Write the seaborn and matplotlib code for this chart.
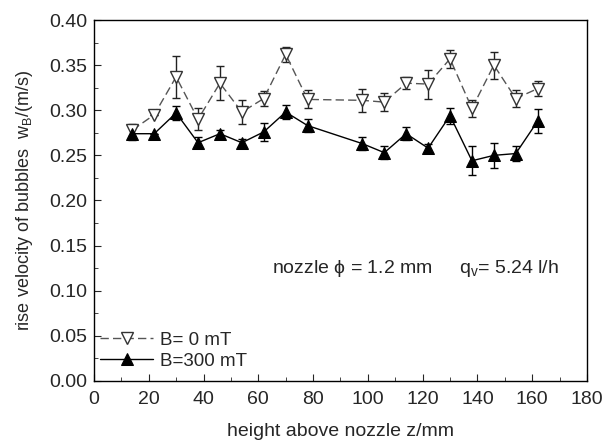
import matplotlib.pyplot as plt
import seaborn as sns
import pandas as pd

# heights above nozzle (mm)
z_b0 = [14, 22, 30, 38, 46, 54, 62, 70, 78, 98, 106, 114, 122, 130, 138, 146, 154, 162]
w_b0 = [0.278, 0.295, 0.337, 0.290, 0.330, 0.298, 0.313, 0.362, 0.312,
        0.311, 0.309, 0.330, 0.329, 0.357, 0.302, 0.350, 0.313, 0.324]
err_b0 = [0.007, 0.0, 0.023, 0.012, 0.019, 0.013, 0.008, 0.008, 0.010,
          0.013, 0.010, 0.007, 0.016, 0.010, 0.009, 0.015, 0.009, 0.008]

z_b300 = [14, 22, 30, 38, 46, 54, 62, 70, 78, 98, 106, 114, 122, 130, 138, 146, 154, 162]
w_b300 = [0.274, 0.274, 0.297, 0.264, 0.274, 0.264, 0.276, 0.298, 0.283,
          0.263, 0.253, 0.274, 0.258, 0.294, 0.244, 0.250, 0.252, 0.288]
err_b300 = [0.007, 0.0, 0.008, 0.006, 0.004, 0.004, 0.010, 0.008, 0.007,
            0.007, 0.007, 0.007, 0.005, 0.009, 0.016, 0.014, 0.008, 0.013]

df0 = pd.DataFrame({"z": z_b0, "w": w_b0, "err": err_b0})
df3 = pd.DataFrame({"z": z_b300, "w": w_b300, "err": err_b300})

sns.set_style("ticks")
plt.rcParams['font.family'] = ['Liberation Sans', 'DejaVu Sans']
plt.rcParams['mathtext.fontset'] = 'custom'
plt.rcParams['mathtext.rm'] = 'Liberation Sans'
plt.rcParams['mathtext.it'] = 'Liberation Sans'

fig = plt.figure(figsize=(6.14, 4.45), dpi=100)
ax = fig.add_axes([0.153, 0.144, 0.803, 0.811])

# error bars
ax.errorbar(df0["z"], df0["w"], yerr=df0["err"], fmt="none", ecolor="#222222",
            elinewidth=1, capsize=3, capthick=1, zorder=2)
ax.errorbar(df3["z"], df3["w"], yerr=df3["err"], fmt="none", ecolor="black",
            elinewidth=1, capsize=3, capthick=1, zorder=2)

sns.lineplot(data=df0, x="z", y="w", ax=ax, color="#555555", linewidth=1,
             marker="v", markersize=8, markerfacecolor="white",
             markeredgecolor="#333333", markeredgewidth=1, label="B= 0 mT", zorder=3)
ax.lines[-1].set_dashes((6, 3))
sns.lineplot(data=df3, x="z", y="w", ax=ax, color="black", linewidth=1,
             marker="^", markersize=8, markerfacecolor="black",
             markeredgecolor="black", label="B=300 mT", zorder=4)

ax.set_xlim(0, 180)
ax.set_ylim(0, 0.40)
ax.set_xticks(range(0, 181, 20))
ax.set_xticks(range(0, 181, 10), minor=True)
ax.set_yticks([i * 0.05 for i in range(9)])
ax.set_yticks([i * 0.025 for i in range(17)], minor=True)
ax.set_yticklabels([f"{i * 0.05:.2f}" for i in range(9)])
ax.tick_params(which="both", direction="in", labelsize=14, top=False, right=False)
ax.tick_params(which="major", length=5)
ax.tick_params(which="minor", length=3)
ax.tick_params(axis="x", pad=7)
ax.tick_params(axis="y", pad=5)
for s in ax.spines.values():
    s.set_visible(True)
    s.set_linewidth(1)
    s.set_color("black")

ax.set_xlabel("height above nozzle z/mm", fontsize=14, labelpad=11)
ax.set_ylabel("rise velocity of bubbles  w$_B$/(m/s)", fontsize=13, labelpad=10)

ax.text(65, 0.125, "nozzle $\\phi$ = 1.2 mm     q$_v$= 5.24 l/h", fontsize=14, va="center")

leg = ax.legend(loc="lower left", frameon=False, fontsize=13.5, handlelength=2.8,
                handletextpad=0.4, labelspacing=0.2, borderaxespad=0.2,
                bbox_to_anchor=(-0.01, 0.0))

fig.savefig("out.png", dpi=100)
